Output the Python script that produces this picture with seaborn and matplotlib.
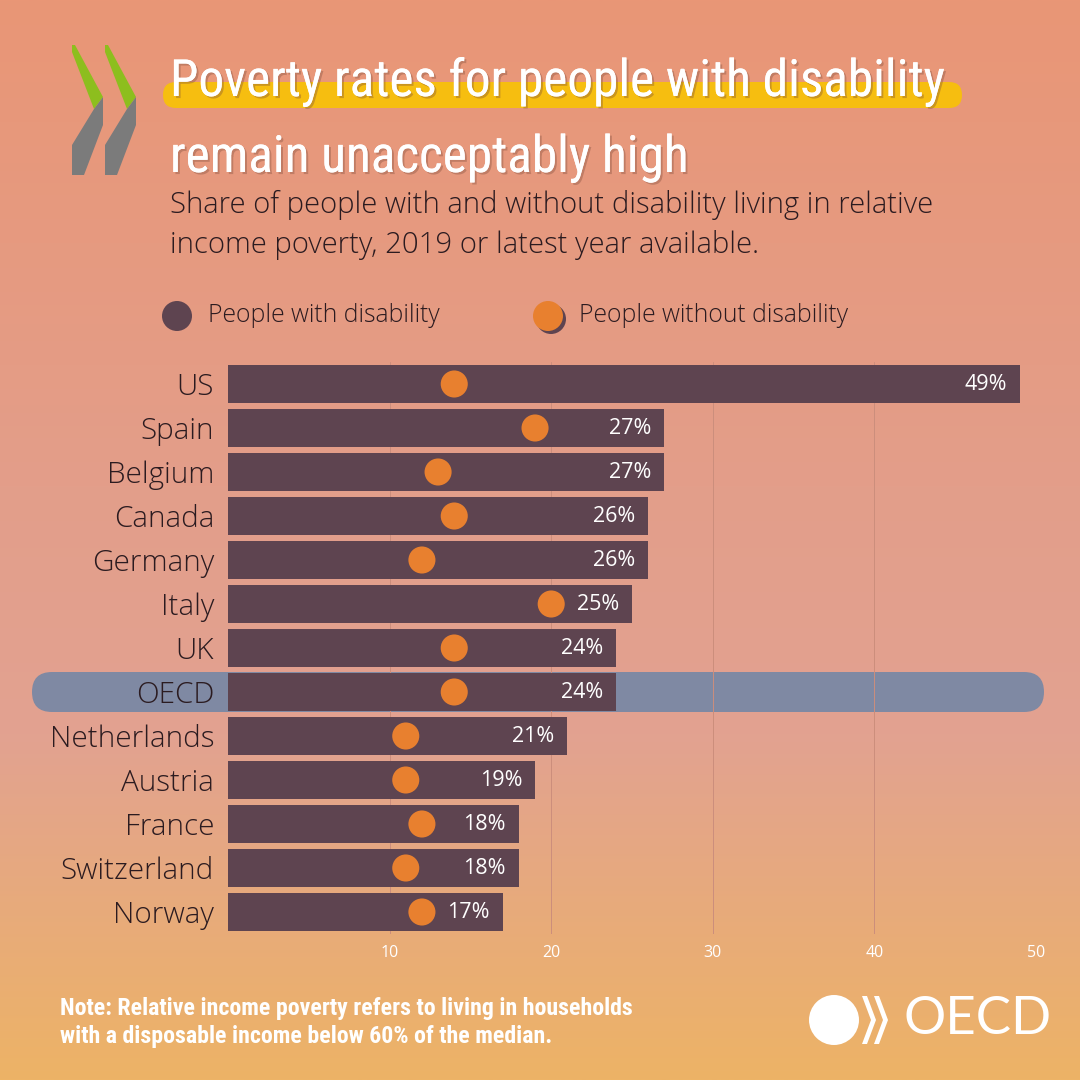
import numpy as np
import pandas as pd
import matplotlib.pyplot as plt
import seaborn as sns
from matplotlib import font_manager
from matplotlib.patches import FancyBboxPatch, Polygon, Circle
import matplotlib.patheffects as pe

# data
countries = ['US', 'Spain', 'Belgium', 'Canada', 'Germany', 'Italy', 'UK', 'OECD',
             'Netherlands', 'Austria', 'France', 'Switzerland', 'Norway']
with_disability = [49, 27, 27, 26, 26, 25, 24, 24, 21, 19, 18, 18, 17]
without_disability = [14, 19, 13, 14, 12, 20, 14, 14, 11, 11, 12, 11, 12]
x_ticks = [10, 20, 30, 40, 50]

title_lines = ['Poverty rates for people with disability', 'remain unacceptably high']
subtitle_lines = ['Share of people with and without disability living in relative',
                  'income poverty, 2019 or latest year available.']
note_lines = ['Note: Relative income poverty refers to living in households',
              'with a disposable income below 60% of the median.']

df = pd.DataFrame({'country': countries, 'with': with_disability, 'without': without_disability})

sns.set_style('white')
plt.rcParams['font.family'] = ['Open Sans', 'DejaVu Sans']

installed = {f.name for f in font_manager.fontManager.ttflist}
title_font = 'DejaVu Sans'
for cand in ['Roboto Condensed', 'Liberation Sans Narrow', 'Open Sans Condensed', 'Roboto', 'Open Sans']:
    if cand in installed:
        title_font = cand
        break

BAR = '#5E4450'
DOT = '#E8802F'
DARK = '#2B1B20'

fig = plt.figure(figsize=(10.8, 10.8), dpi=100)

# background gradient, in pixel coordinates
bg = fig.add_axes([0, 0, 1, 1])
bg.set_zorder(0)
stops = np.array([[233, 150, 118], [227, 158, 138], [226, 162, 145], [237, 179, 102]]) / 255
pos = np.array([0.0, 0.45, 0.68, 1.0])
yy = np.linspace(0, 1, 400)
grad = np.stack([np.interp(yy, pos, stops[:, k]) for k in range(3)], axis=1)
bg.imshow(grad[:, None, :], extent=[0, 1080, 1080, 0], aspect='auto')
bg.set_xlim(0, 1080)
bg.set_ylim(1080, 0)
bg.axis('off')

# OECD row highlight
bg.add_patch(FancyBboxPatch((32, 672), 1012, 40, boxstyle='round,pad=0,rounding_size=20',
                            fc='#7F89A3', ec='none'))

# chevrons top-left
for dx in [0, 33]:
    bg.add_patch(Polygon([(72 + dx, 45), (75 + dx, 45), (103 + dx, 97), (94 + dx, 109), (72 + dx, 52)],
                         closed=True, fc='#8DBE1E', ec='none'))
    bg.add_patch(Polygon([(94 + dx, 109), (103 + dx, 97), (103 + dx, 125), (84 + dx, 175),
                          (72 + dx, 175), (72 + dx, 145)], closed=True, fc='#7B7B7B', ec='none'))

# title with yellow highlight
bg.add_patch(FancyBboxPatch((163, 82), 799, 26, boxstyle='round,pad=0,rounding_size=13',
                            fc='#F6BE10', ec='none'))
shadow = [pe.withSimplePatchShadow(offset=(1.5, -1.5), shadow_rgbFace='#7a4a3a', alpha=0.35), pe.Normal()]
t1 = bg.text(170, 96, title_lines[0], color='white', fontsize=40, fontweight='normal',
             family=title_font, va='baseline', ha='left', path_effects=shadow)
t2 = bg.text(170, 172, title_lines[1], color='white', fontsize=40, fontweight='normal',
             family=title_font, va='baseline', ha='left', path_effects=shadow)
s1 = bg.text(170, 205, subtitle_lines[0], color=DARK, fontsize=18, fontweight='light',
             va='center', ha='left')
s2 = bg.text(170, 245, subtitle_lines[1], color=DARK, fontsize=18, fontweight='light',
             va='center', ha='left')
n1 = bg.text(60, 1009, note_lines[0], color='white', fontsize=13, fontweight='bold',
             family=title_font, va='center', ha='left')
n2 = bg.text(60, 1037, note_lines[1], color='white', fontsize=13, fontweight='bold',
             family=title_font, va='center', ha='left')

# legend
bg.add_patch(Circle((177, 316), 15, fc=BAR, ec='none'))
bg.text(208, 316, 'People with disability', color=DARK, fontsize=17.8, fontweight='light', va='center')
bg.add_patch(Circle((551, 319), 15, fc=BAR, ec='none'))
bg.add_patch(Circle((548, 316), 15, fc=DOT, ec='none'))
bg.text(579, 316, 'People without disability', color=DARK, fontsize=17.8, fontweight='light', va='center')

# OECD logo bottom right
bg.add_patch(Circle((834, 1020), 25, fc='white', ec='none'))
for dx in [0, 12]:
    bg.add_patch(Polygon([(862 + dx, 996), (867 + dx, 996), (876 + dx, 1020), (867 + dx, 1044),
                          (862 + dx, 1044), (871 + dx, 1020)], closed=True, fc='white', ec='none'))
bg.text(903, 1020, 'OECD', color='white', fontsize=38, family=['Lato', 'DejaVu Sans'],
        va='center', ha='left')

# scale the long texts to the widths measured on the reference
fig.canvas.draw()
r = fig.canvas.get_renderer()
for t, w in [(t1, 775), (s1, 765), (n1, 571)]:
    bb = t.get_window_extent(r)
    t.set_fontsize(t.get_fontsize() * w / bb.width)
t2.set_fontsize(t1.get_fontsize())
s2.set_fontsize(s1.get_fontsize())
n2.set_fontsize(n1.get_fontsize())

# main chart
ax = fig.add_axes([228 / 1080, 1 - 934 / 1080, 808 / 1080, 572 / 1080])
ax.set_zorder(1)
ax.patch.set_alpha(0)
sns.barplot(data=df, x='with', y='country', orient='h', color=BAR, width=0.86,
            saturation=1, linewidth=0, edgecolor='none', ax=ax, zorder=2)
sns.scatterplot(data=df, x='without', y='country', color=DOT, s=380, edgecolor='none',
                ax=ax, zorder=3, legend=False)
for i, v in enumerate(with_disability):
    ax.text(v - 0.8, i, f'{v}%', ha='right', va='center', color='white', fontsize=15.5, zorder=4)

ax.set_xlim(0, 50)
ax.set_ylim(len(countries) - 0.5, -0.5)
ax.set_xticks(x_ticks)
ax.grid(axis='x', color='#CC8E7C', linewidth=0.7)
ax.grid(axis='y', visible=False)
ax.set_axisbelow(True)
ax.set_xlabel('')
ax.set_ylabel('')
sns.despine(ax=ax, left=True, bottom=True)
ax.tick_params(axis='x', colors='white', labelsize=11.5, length=0, pad=8)
ax.tick_params(axis='y', colors=DARK, labelsize=21.3, length=0, pad=10)
for lab in ax.get_yticklabels():
    lab.set_fontweight('light')

plt.savefig('out.png', dpi=100)
